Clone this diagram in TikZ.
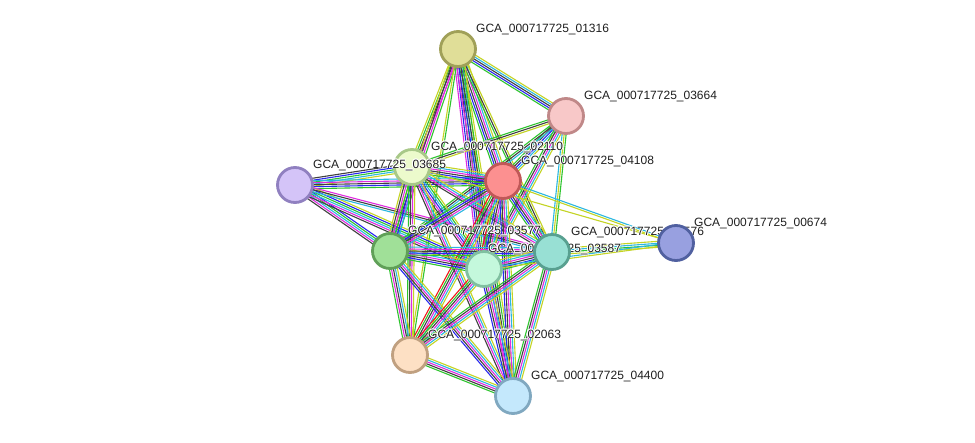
\documentclass[tikz,border=0pt]{standalone}
\usepackage{fontspec}
\setmainfont{Liberation Sans}
\usetikzlibrary{calc,backgrounds}

% evidence colours
\definecolor{evg}{HTML}{2EC42E}
\definecolor{evr}{HTML}{F01818}
\definecolor{evb}{HTML}{2828F0}
\definecolor{evk}{HTML}{404040}
\definecolor{evm}{HTML}{E02CE0}
\definecolor{evc}{HTML}{2CB8E0}
\definecolor{evy}{HTML}{C4D424}

\tikzset{
  prot/.style={circle, minimum size=35pt, inner sep=0pt, line width=2.8pt},
  lbl/.style={anchor=base west, inner sep=0pt, font=\fontsize{12}{14}\selectfont, text=black!88},
  evid/.style={line width=1.1pt},
}

% bundle of parallel evidence lines between two proteins
\newcommand\evlines[3]{%
  \xdef\ncol{0}%
  \foreach \cc in {#3}{\pgfmathtruncatemacro\tmp{\ncol+1}\xdef\ncol{\tmp}}%
  \foreach \cc [count=\i] in {#3}{%
    \pgfmathsetmacro\off{(\i-(\ncol+1)/2)*2}%
    \draw[evid, color=ev\cc] ($(#1)!\off pt!90:(#2)$) -- ($(#2)!\off pt!-90:(#1)$);
  }}

% protein label with a thin white halo
\newcommand\plabel[3]{%
  \foreach \a in {0,45,...,315}{\node[lbl, text=white] at ($(#2)+(\a:0.9)$) {#3};}%
  \node[lbl] (#1) at (#2) {#3};}

\begin{document}
\begin{tikzpicture}[x=1pt, y=-1pt]
\useasboundingbox (0,0) rectangle (975,442);

% proteins
\node[prot, fill={rgb,255:red,224;green,222;blue,152}, draw={rgb,255:red,160;green,160;blue,88}] (n01316) at (458,49) {};
\plabel{l01316}{476,32}{GCA\_000717725\_01316}
\node[prot, fill={rgb,255:red,248;green,200;blue,200}, draw={rgb,255:red,192;green,136;blue,136}] (n03664) at (566,116) {};
\plabel{l03664}{584,99}{GCA\_000717725\_03664}
\node[prot, fill={rgb,255:red,236;green,250;blue,204}, draw={rgb,255:red,168;green,200;blue,136}] (n02110) at (412,167) {};
\plabel{l02110}{431,150}{GCA\_000717725\_02110}
\node[prot, fill={rgb,255:red,212;green,196;blue,248}, draw={rgb,255:red,144;green,128;blue,192}] (n03685) at (295,185) {};
\plabel{l03685}{313,168}{GCA\_000717725\_03685}
\node[prot, fill={rgb,255:red,252;green,144;blue,144}, draw={rgb,255:red,192;green,88;blue,88}] (n04108) at (503,181) {};
\plabel{l04108}{521,164}{GCA\_000717725\_04108}
\node[prot, fill={rgb,255:red,160;green,224;blue,152}, draw={rgb,255:red,96;green,160;blue,88}] (n03577) at (390,251) {};
\plabel{l03577}{408,234}{GCA\_000717725\_03577}
\node[prot, fill={rgb,255:red,196;green,248;blue,220}, draw={rgb,255:red,128;green,192;blue,160}] (n03587) at (484,269) {};
\plabel{l03587}{488,252}{GCA\_000717725\_03587}
\node[prot, fill={rgb,255:red,152;green,224;blue,212}, draw={rgb,255:red,88;green,160;blue,144}] (n03576) at (552,252) {};
\plabel{l03576}{571,235}{GCA\_000717725\_03576}
\node[prot, fill={rgb,255:red,152;green,160;blue,224}, draw={rgb,255:red,80;green,96;blue,160}] (n00674) at (676,243) {};
\plabel{l00674}{694,226}{GCA\_000717725\_00674}
\node[prot, fill={rgb,255:red,253;green,224;blue,196}, draw={rgb,255:red,192;green,160;blue,128}] (n02063) at (410,355) {};
\plabel{l02063}{428,338}{GCA\_000717725\_02063}
\node[prot, fill={rgb,255:red,196;green,232;blue,252}, draw={rgb,255:red,128;green,168;blue,192}] (n04400) at (513,396) {};
\plabel{l04400}{531,379}{GCA\_000717725\_04400}

% evidence lines
\begin{pgfonlayer}{background}
\fill[white] (0,0) rectangle (975,442);
\evlines{n01316}{n03664}{g,b,k,c,y}
\evlines{n01316}{n02110}{y,g,k,m}
\evlines{n01316}{n04108}{g,b,k,m,c,y}
\evlines{n01316}{n03577}{y,k,m,g}
\evlines{n01316}{n03587}{m,b,k,g,c,y}
\evlines{n01316}{n03576}{g,k,y}
\evlines{n01316}{n04400}{m,b,k,g,y}
\evlines{n01316}{n02063}{y,g}
\evlines{n03664}{n02110}{g,k,y}
\evlines{n03664}{n04108}{g,k,b,c,y}
\evlines{n03664}{n03577}{g,k,c}
\evlines{n03664}{n03587}{g,k,m,c,y}
\evlines{n03664}{n03576}{c,y,g}
\evlines{n03685}{n02110}{y,c,g,b,k}
\evlines{n03685}{n04108}{g,b,k,m,c}
\evlines{n03685}{n03577}{k,m,c,g,b}
\evlines{n03685}{n03587}{k,m,c,g,b,y}
\evlines{n03685}{n03576}{c,k,m}
\evlines{n02110}{n04108}{g,b,k,m,c,y}
\evlines{n02110}{n03577}{y,k,m,g,b,c}
\evlines{n02110}{n03587}{k,m,b,c,g,y}
\evlines{n02110}{n03576}{k,m,c,y}
\evlines{n02110}{n02063}{g,k,m,y}
\evlines{n02110}{n04400}{k,m,c,y}
\evlines{n04108}{n03577}{g,b,k,m,c}
\evlines{n04108}{n03587}{r,g,b,k,m,c,y}
\evlines{n04108}{n03576}{g,b,k,m,c,y}
\evlines{n04108}{n02063}{r,g,k,m,c,y}
\evlines{n04108}{n04400}{b,k,m,c,y}
\evlines{n03577}{n03587}{g,b,k,m,c,y}
\evlines{n03577}{n03576}{g,b,k,m,c}
\evlines{n03577}{n02063}{g,m,k,c,y}
\evlines{n03577}{n04400}{b,k,m,c,y}
\evlines{n03587}{n03576}{g,b,k,m,c,y}
\evlines{n03587}{n02063}{r,g,k,m,c,y}
\evlines{n03587}{n04400}{b,k,m,c,y}
\evlines{n03576}{n02063}{g,k,m,c,y}
\evlines{n03576}{n04400}{g,k,m,c,y}
\evlines{n02063}{n04400}{g,k,m,c,y}
\evlines{n04108}{n00674}{y,c}
\evlines{n02110}{n00674}{y}
\evlines{n03576}{n00674}{y,g,c,y}
\evlines{n03587}{n00674}{y,c}
\end{pgfonlayer}
\end{tikzpicture}
\end{document}
